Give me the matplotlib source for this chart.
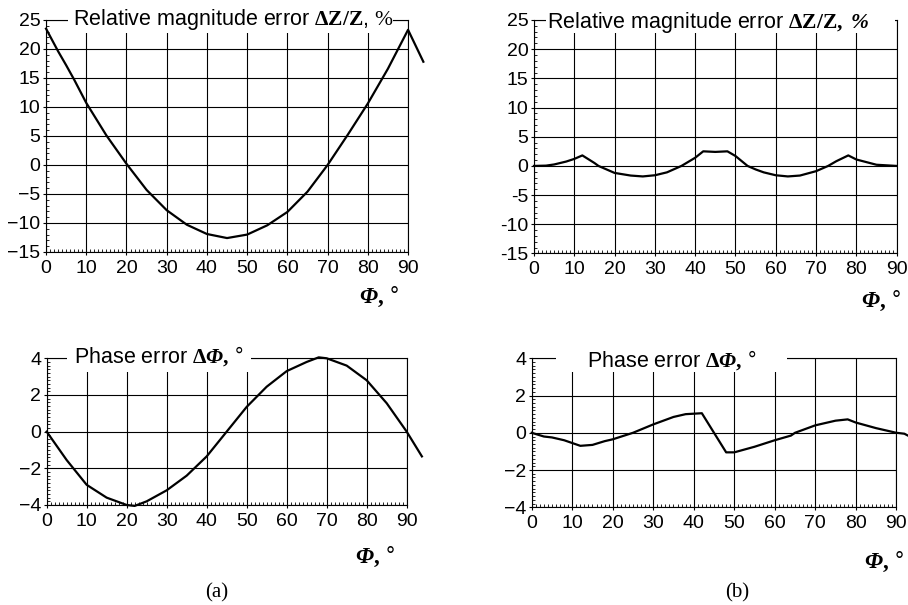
import matplotlib
matplotlib.use('Agg')
import matplotlib.pyplot as plt
from matplotlib.patches import Rectangle
from matplotlib.ticker import MultipleLocator

plt.rcParams['font.family'] = ['Liberation Sans', 'DejaVu Sans']
plt.rcParams['mathtext.fontset'] = 'custom'
plt.rcParams['mathtext.rm'] = 'Liberation Serif'
plt.rcParams['mathtext.it'] = 'Liberation Serif:italic'
plt.rcParams['mathtext.bf'] = 'Liberation Serif:bold'
plt.rcParams['mathtext.bfit'] = 'Liberation Serif:italic:bold'

# (a) relative magnitude error, %
phi_mag_a = [0, 3, 5, 7, 10, 15, 20, 25, 30, 35, 40, 45, 50, 55, 60, 65, 70, 75, 80, 85, 90, 93.8]
mag_a = [23.5, 19.6, 17.2, 14.7, 10.7, 5.1, 0.2, -4.3, -7.8, -10.3, -11.9, -12.6, -12.0, -10.4, -8.1, -4.6,
         0.0, 5.2, 10.6, 16.6, 23.3, 17.8]

# (b) relative magnitude error, %
phi_mag_b = [0, 3, 5, 8, 10, 12, 15, 16, 20, 24, 27, 30, 33, 36.6, 40, 42, 45, 48, 50, 53, 55, 57, 60, 63,
             66, 70, 73, 75, 78, 80, 85, 90]
mag_b = [0, 0.05, 0.25, 0.75, 1.2, 1.8, 0.5, 0.0, -1.2, -1.65, -1.8, -1.6, -1.1, 0.0, 1.4, 2.5, 2.4, 2.5, 1.7,
         0.0, -0.6, -1.1, -1.6, -1.8, -1.65, -0.9, 0.0, 0.8, 1.8, 1.1, 0.2, 0.0]

# (a) phase error, deg
phi_ph_a = [0, 5, 10, 15, 20, 22, 25, 30, 35, 40, 45, 50, 55, 60, 65, 68, 70, 75, 80, 85, 90, 93.8]
ph_a = [0, -1.55, -2.9, -3.6, -4.0, -4.05, -3.8, -3.2, -2.4, -1.35, 0.0, 1.35, 2.45, 3.3, 3.8, 4.05, 4.0,
        3.6, 2.8, 1.55, 0.0, -1.35]

# (b) phase error, deg
phi_ph_b = [0, 3, 5, 8, 10, 12, 15, 18, 20, 25, 30, 35, 38, 42, 48, 50, 55, 60, 64, 65, 70, 75, 78, 80,
            85, 90, 92, 93.3]
ph_b = [0, -0.2, -0.25, -0.4, -0.55, -0.7, -0.65, -0.45, -0.35, 0.0, 0.45, 0.85, 1.0, 1.05, -1.05, -1.05,
        -0.75, -0.4, -0.15, 0.0, 0.4, 0.65, 0.72, 0.55, 0.25, 0.0, -0.05, -0.2]

x_ticks = [0, 10, 20, 30, 40, 50, 60, 70, 80, 90]
mag_ticks = [-15, -10, -5, 0, 5, 10, 15, 20, 25]
mag_labels_a = ['\u221215', '\u221210', '\u22125', '0', '5', '10', '15', '20', '25']
mag_labels_b = ['-15', '-10', '-5', '0', '5', '10', '15', '20', '25']
ph_ticks = [-4, -2, 0, 2, 4]
ph_labels = ['\u22124', '\u22122', '0', '2', '4']

title_mag_a = r'Relative magnitude error $\mathbf{\Delta Z/Z}$, $\mathit{\%}$'
title_mag_b = r'Relative magnitude error $\mathbf{\Delta Z/Z,}$ $\mathbfit{\%}$'
title_ph = r'Phase error $\mathbf{\Delta}\mathbfit{\Phi}\mathbf{,}$ °'
phi_label = r'$\mathbfit{\Phi}\mathbf{,}$ °'

fig = plt.figure(figsize=(9.08, 6.05), dpi=100)


def setup(ax, yticks, ylabels, ylim, yminor):
    ax.set_xlim(0, 90)
    ax.set_ylim(*ylim)
    ax.set_xticks(x_ticks)
    ax.set_yticks(yticks)
    ax.set_yticklabels(ylabels)
    ax.xaxis.set_minor_locator(MultipleLocator(1))
    ax.yaxis.set_minor_locator(MultipleLocator(yminor))
    ax.tick_params(which='major', direction='out', length=2.5, width=0.8, labelsize=14, pad=1.5)
    ax.tick_params(axis='x', which='major', pad=3)
    ax.tick_params(which='minor', direction='in', length=2.5, width=0.6)
    ax.grid(True, which='major', color='black', lw=0.8)
    for s in ax.spines.values():
        s.set_linewidth(0.8)


def draw(ax, x, y):
    ax.plot(x, y, color='black', lw=1.6, clip_on=False, zorder=5)


# top left
ax1 = fig.add_axes([0.0507, 0.5835, 0.3987, 0.3835])
setup(ax1, mag_ticks, mag_labels_a, (-15, 25), 1)
draw(ax1, phi_mag_a, mag_a)
ax1.add_patch(Rectangle((5.5, 22.7), 80.8, 5, facecolor='white', edgecolor='none', clip_on=False, zorder=3))
ax1.text(6.7, 24.1, title_mag_a, fontsize=15.5, va='baseline', ha='left', zorder=4)

# top right
ax2 = fig.add_axes([0.5881, 0.581, 0.3994, 0.386])
setup(ax2, mag_ticks, mag_labels_b, (-15, 25), 1)
draw(ax2, phi_mag_b, mag_b)
ax2.add_patch(Rectangle((2.9, 22.7), 86.6, 5, facecolor='white', edgecolor='none', clip_on=False, zorder=3))
ax2.text(3.2, 23.6, title_mag_b, fontsize=15.5, va='baseline', ha='left', zorder=4)

# bottom left
ax3 = fig.add_axes([0.0514, 0.1653, 0.3965, 0.2425])
setup(ax3, ph_ticks, ph_labels, (-4, 4), 0.2)
draw(ax3, phi_ph_a, ph_a)
ax3.add_patch(Rectangle((5, 3.27), 46, 1.2, facecolor='white', edgecolor='none', clip_on=False, zorder=3))
ax3.text(6.8, 3.76, title_ph, fontsize=15.5, va='baseline', ha='left', zorder=4)

# bottom right
ax4 = fig.add_axes([0.5856, 0.1615, 0.4015, 0.2463])
setup(ax4, ph_ticks, ph_labels, (-4, 4), 0.2)
draw(ax4, phi_ph_b, ph_b)
ax4.add_patch(Rectangle((6, 3.24), 57, 1.2, facecolor='white', edgecolor='none', clip_on=False, zorder=3))
ax4.text(13.7, 3.55, title_ph, fontsize=15.5, va='baseline', ha='left', zorder=4)

fig.text(0.395, 0.509, phi_label, fontsize=16.5, ha='left', va='center')
fig.text(0.948, 0.502, phi_label, fontsize=16.5, ha='left', va='center')
fig.text(0.391, 0.079, phi_label, fontsize=16.5, ha='left', va='center')
fig.text(0.951, 0.071, phi_label, fontsize=16.5, ha='left', va='center')

fig.text(0.239, 0.02, '(a)', fontsize=15, family='Liberation Serif', ha='center', va='center')
fig.text(0.8117, 0.02, '(b)', fontsize=15, family='Liberation Serif', ha='center', va='center')

fig.savefig('out.png', dpi=100)
